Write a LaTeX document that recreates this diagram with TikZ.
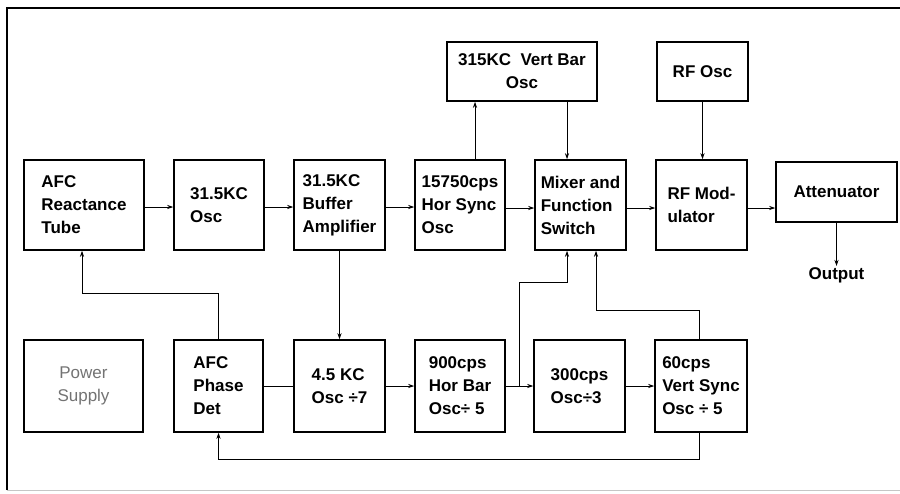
\documentclass[tikz,border=0pt]{standalone}
\usepackage{fontspec}
\setmainfont{Liberation Sans}
\usetikzlibrary{arrows.meta,calc}
\tikzset{
  box/.style={draw, line width=1.5pt, inner sep=0pt, align=left,
    font=\fontsize{17}{23}\selectfont\bfseries},
  cbox/.style={box, align=center},
  arr/.style={line width=0.9pt, -{Stealth[length=6pt,width=4pt]}},
  ln/.style={line width=0.9pt},
}
\begin{document}
\begin{tikzpicture}[x=1pt,y=-1pt]
\useasboundingbox (0,0) rectangle (900,493);
% frame
\draw[line width=2.2pt] (7,490) -- (7,8) -- (900,8);
\draw[line width=0.6pt, gray!45] (7,490) -- (900,490);
% top row
\node[box, minimum width=120pt, minimum height=90pt] (react) at (84,205) {AFC\\Reactance\\Tube};
\node[box, minimum width=90pt, minimum height=90pt] (osc) at (219,205) {31.5KC\\Osc};
\node[box, minimum width=91pt, minimum height=90pt] (buf) at (339.5,205) {31.5KC\\Buffer\\Amplifier};
\node[box, minimum width=90pt, minimum height=90pt] (hsync) at (460,205) {15750cps\\Hor Sync\\Osc};
\node[box, minimum width=91pt, minimum height=90pt] (mixer) at (580.5,205) {Mixer and\\Function\\Switch};
\node[box, minimum width=91pt, minimum height=90pt] (rfmod) at (701.5,205) {RF Mod-\\ulator};
\node[cbox, minimum width=121pt, minimum height=60pt] (atten) at (836.5,192) {Attenuator};
\node[cbox, minimum width=150pt, minimum height=59pt] (vbar) at (522,71.5) {315KC\ \ Vert Bar\\Osc};
\node[cbox, minimum width=91pt, minimum height=59pt] (rfosc) at (702.5,71.5) {RF Osc};
\node[font=\fontsize{17}{23}\selectfont\bfseries, anchor=north, inner sep=1pt] (out) at (836.5,266) {Output};
% bottom row
\node[cbox, minimum width=119pt, minimum height=92pt, text=black!55, font=\fontsize{17}{23}\selectfont] (power) at (83.5,386) {Power\\Supply};
\node[box, minimum width=89pt, minimum height=92pt] (phase) at (218.5,386) {AFC\\Phase\\Det};
\node[box, minimum width=91pt, minimum height=92pt] (kc) at (339.5,386) {4.5 KC\\Osc {\char"00F7}7};
\node[box, minimum width=90pt, minimum height=92pt] (hbar) at (460,386) {900cps\\Hor Bar\\Osc{\char"00F7} 5};
\node[box, minimum width=91pt, minimum height=92pt] (c300) at (579.5,386) {300cps\\Osc{\char"00F7}3};
\node[box, minimum width=92pt, minimum height=92pt] (vsync) at (701,386) {60cps\\Vert Sync\\Osc {\char"00F7} 5};
% top row connectors
\draw[arr] ([yshift=-2pt]react.east) -- ([yshift=-2pt]osc.west);
\draw[arr] ([yshift=-2pt]osc.east) -- ([yshift=-2pt]buf.west);
\draw[arr] ([yshift=-2pt]buf.east) -- ([yshift=-2pt]hsync.west);
\draw[arr] ([yshift=-3pt]hsync.east) -- ([yshift=-3pt]mixer.west);
\draw[arr] ([yshift=-3pt]mixer.east) -- ([yshift=-3pt]rfmod.west);
\draw[arr] ([yshift=-3pt]rfmod.east) -- ([yshift=-3pt]rfmod.east -| atten.west);
\draw[arr] (atten.south) -- (out.north);
\draw[arr] ([xshift=15pt]hsync.north) -- ([xshift=15pt]hsync.north |- vbar.south);
\draw[arr] ([xshift=-13.5pt]mixer.north |- vbar.south) -- ([xshift=-13.5pt]mixer.north);
\draw[arr] (rfosc.south) -- (rfosc.south |- rfmod.north);
\draw[arr] (buf.south) -- (kc.north);
\draw[arr] (phase.north) -- ++(0,-46) -| ([xshift=-2pt]react.south);
% bottom row connectors
\draw[ln] (phase.east) -- (kc.west);
\draw[arr] (kc.east) -- (hbar.west);
\draw[arr] (hbar.east) -- (c300.west);
\coordinate (j1) at ($(hbar.east)!0.5!(c300.west)$);
\draw[arr] (j1) -- ++(0,-104) -| ([xshift=-13.5pt]mixer.south);
\draw[arr] (c300.east) -- (vsync.west);
\draw[arr] ([xshift=-2pt]vsync.north) -- ++(0,-29) -| ([xshift=15.5pt]mixer.south);
\draw[arr] ([xshift=-2pt]vsync.south) -- ++(0,27) -| (phase.south);
\end{tikzpicture}
\end{document}
